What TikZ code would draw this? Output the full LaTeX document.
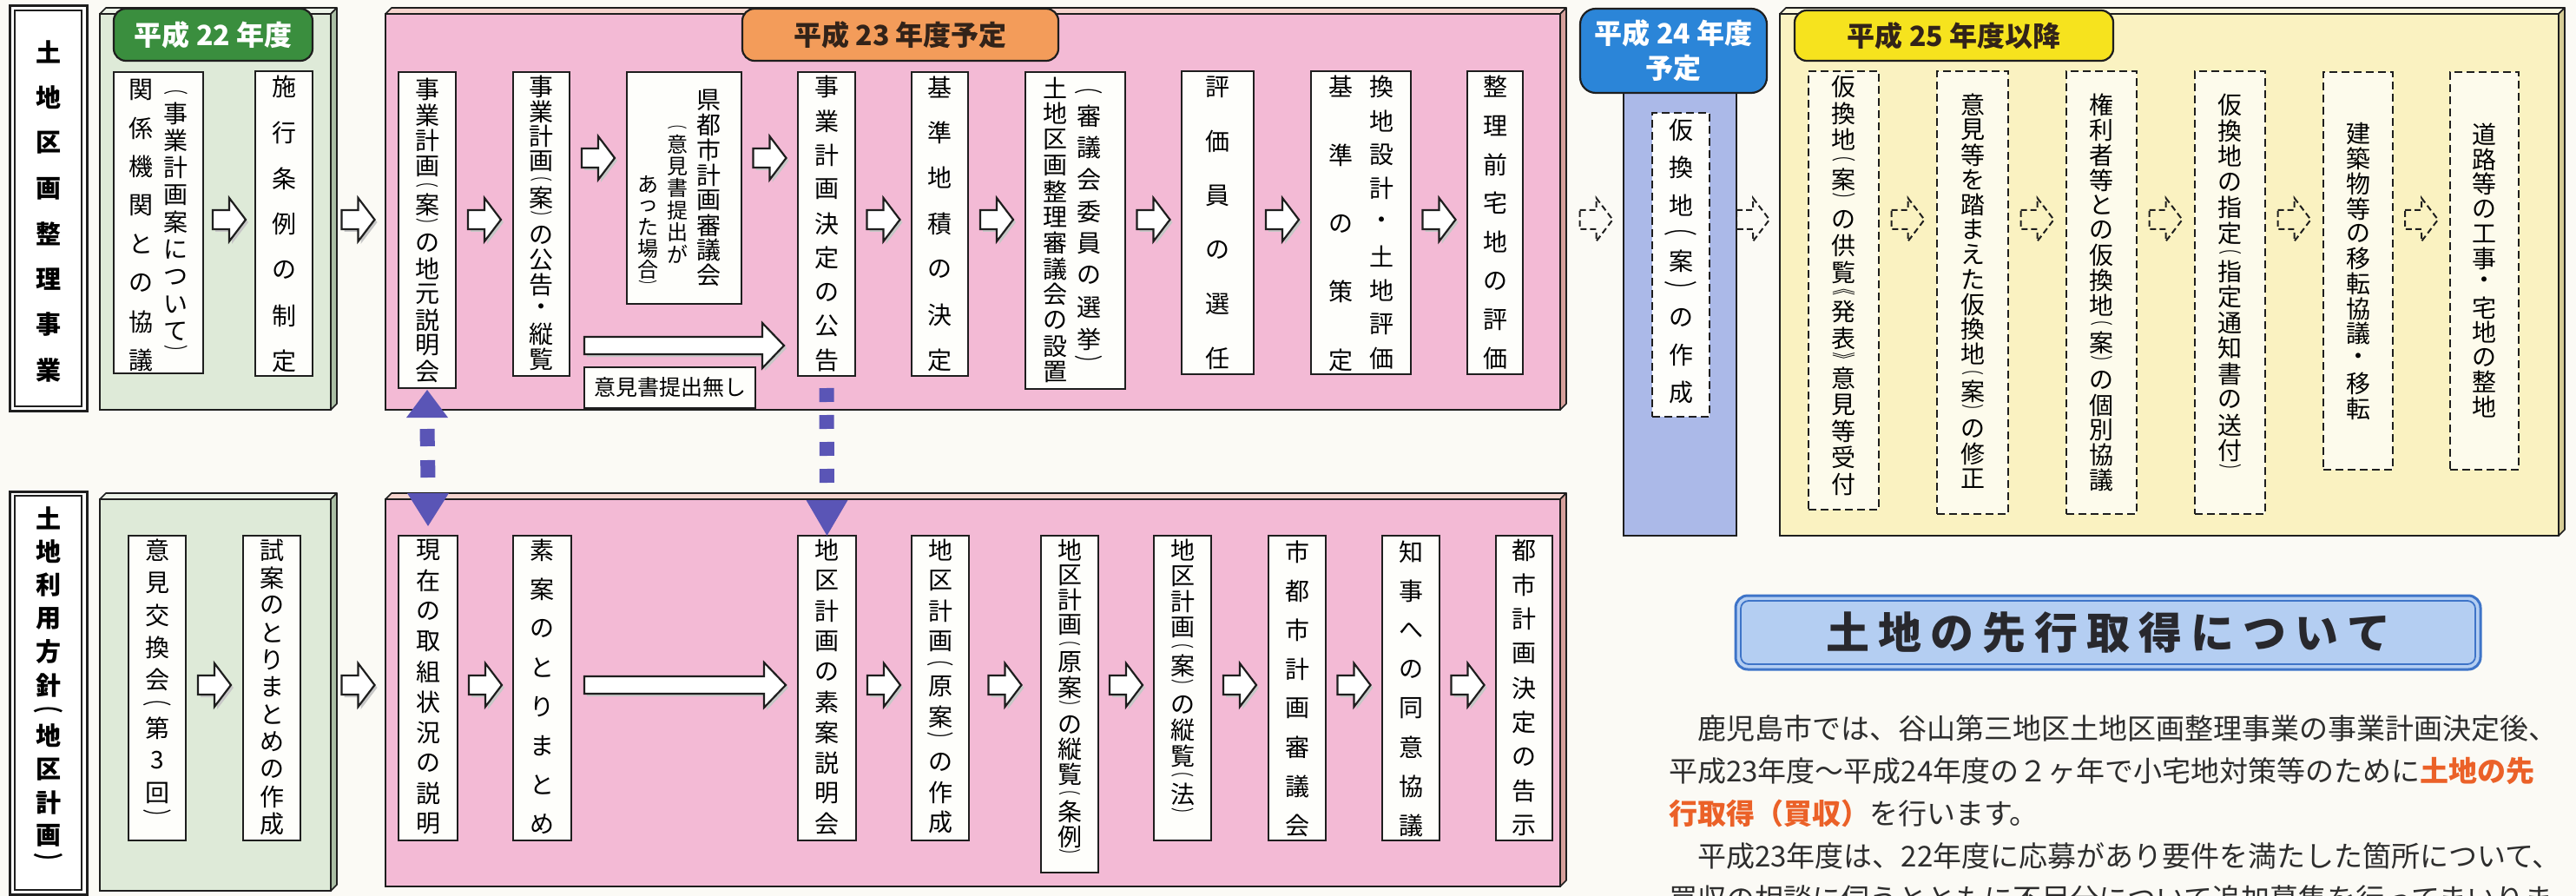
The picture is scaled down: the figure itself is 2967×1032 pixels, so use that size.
\documentclass[tikz,border=0pt]{standalone}
\usepackage{fontspec}
\usepackage{graphicx}
\setmainfont{Noto Sans CJK JP}
\usetikzlibrary{calc}
\definecolor{paper}{RGB}{251,250,245}
\definecolor{linec}{RGB}{30,30,30}
\definecolor{boxfill}{RGB}{254,254,251}
\definecolor{ybfill}{RGB}{253,251,236}
\definecolor{gpanel}{RGB}{222,234,216}
\definecolor{gtop}{RGB}{236,243,232}
\definecolor{gside}{RGB}{170,190,165}
\definecolor{ppanel}{RGB}{243,186,213}
\definecolor{ptop}{RGB}{246,212,206}
\definecolor{pside}{RGB}{214,160,155}
\definecolor{bcol}{RGB}{171,185,232}
\definecolor{ypanel}{RGB}{250,242,193}
\definecolor{ytop}{RGB}{252,248,222}
\definecolor{yside}{RGB}{214,204,150}
\definecolor{ghead}{RGB}{58,142,62}
\definecolor{ohead}{RGB}{243,156,90}
\definecolor{bhead}{RGB}{43,133,216}
\definecolor{yhead}{RGB}{246,227,30}
\definecolor{vconn}{RGB}{90,85,182}
\definecolor{titlefill}{RGB}{180,206,242}
\definecolor{titleline}{RGB}{62,116,200}
\definecolor{titletext}{RGB}{40,40,45}
\definecolor{orgtext}{RGB}{235,97,40}
\definecolor{bodytext}{RGB}{45,45,45}
\definecolor{darkhdr}{RGB}{50,35,25}

\ExplSyntaxOn
\NewDocumentCommand \vcol { O{28} m m m m }
  {
    \vbox to #2pt
      {
        \fontsize{#1}{#1}\selectfont
        \offinterlineskip
        \kern #3pt
        \tl_map_inline:nn {#5}
          {
            \tl_if_in:nnTF { ︵︶︽︾ } {##1}
              {
                \vbox to 0.5\dimexpr #4pt \relax
                  {
                    \vss
                    \hbox to 1em
                      {
                        \hss
                        \scalebox{1.8}[1]
                          { \fontsize{\fp_eval:n {0.5*#4}}{\fp_eval:n {0.5*#4}}\selectfont ##1 }
                        \hss
                      }
                    \vss
                  }
              }
              { \vbox to #4pt { \vss \hbox to 1em { \hss ##1 \hss } \vss } }
          }
        \vss
      }
  }
\ExplSyntaxOff

\newcommand\bx[7][sbox]{\node[#1, minimum width=#5-#3, minimum height=#6-#4] (#2) at (#3,#4) {#7};}
\newcommand\panel[8]{%
  \node[draw=linec, line width=2.5pt, fill=#6, inner sep=0pt, outer sep=0pt, anchor=north west, minimum width=#4-#2, minimum height=#5-#3] (#1) at (#2,#3) {};
  \draw[linec, line width=1.6pt, fill=#7, line join=round] (#1.north west) -- ++(7,-7) -- ($(#1.north east)+(7,-7)$) -- (#1.north east) -- cycle;
  \draw[linec, line width=1.6pt, fill=#8, line join=round] (#1.north east) -- ++(7,-7) -- ($(#1.south east)+(7,-7)$) -- (#1.south east) -- cycle;
}
\newcommand\longarr[2]{%
  \fill[black!22] ($(#1)+(3,-7)$) -- ($(#2)+(-22,-7)$) -- ($(#2)+(-22,-23)$) -- ($(#2)+(3,3)$) -- ($(#2)+(-22,29)$) -- ($(#2)+(-22,13)$) -- ($(#1)+(3,13)$) -- cycle;
  \draw[linec, line width=2.2pt, fill=white, line join=miter] ($(#1)+(0,-10)$) -- ($(#2)+(-25,-10)$) -- ($(#2)+(-25,-26)$) -- (#2) -- ($(#2)+(-25,26)$) -- ($(#2)+(-25,10)$) -- ($(#1)+(0,10)$) -- cycle;
}

\tikzset{
  sbox/.style={draw=linec, line width=2.4pt, fill=boxfill, inner sep=0pt, outer sep=0pt, anchor=north west},
  dbox/.style={sbox, dash pattern=on 9pt off 5pt},
  ybox/.style={dbox, fill=ybfill},
  hdr/.style={draw=linec, line width=2.2pt, rounded corners=14pt, inner sep=0pt, font=\fontsize{32}{40}\selectfont\bfseries, align=center},
  body/.style={anchor=west, inner sep=0pt, text=bodytext, font=\fontsize{33}{33}\selectfont},
  barrow/.pic={
    \fill[black!22] (-16,-8) -- (3,-8) -- (3,-22) -- (22,3) -- (3,28) -- (3,14) -- (-16,14) -- cycle;
    \draw[linec, line width=2.2pt, fill=white, line join=miter] (-19,-11) -- (0,-11) -- (0,-25) -- (19,0) -- (0,25) -- (0,11) -- (-19,11) -- cycle;
  },
  darrow/.pic={
    \draw[linec, line width=2pt, dash pattern=on 7pt off 4pt] (-19,-11) -- (0,-11) -- (0,-25) -- (19,0) -- (0,25) -- (0,11) -- (-19,11) -- cycle;
  }
}

\begin{document}
\begin{tikzpicture}[x=1pt, y=-1pt]
\useasboundingbox (0,0) rectangle (2967,1032);
\fill[paper] (0,0) rectangle (2967,1032);

% row reference coordinates
\coordinate (r0) at (0,182);
\coordinate (r1) at (0,253);
\coordinate (r2) at (0,789);
\coordinate (r3) at (0,398);

% ---------- left labels ----------
\node[draw=linec, line width=3pt, fill=white, anchor=north west, inner sep=0pt, outer sep=0pt, minimum width=89, minimum height=466] (L1) at (11,7) {\bfseries\vcol[29]{466}{26.85}{52.3}{土地区画整理事業}};
\draw[linec, line width=1.4pt] ($(L1.north west)+(6,5)$) rectangle ($(L1.south east)+(-6,-5)$);
\node[draw=linec, line width=3pt, fill=white, anchor=north west, inner sep=0pt, outer sep=0pt, minimum width=89, minimum height=464] (L2) at (11,566) {\bfseries\vcol[29]{464}{11.75}{38.5}{土地利用方針︵地区計画︶}};
\draw[linec, line width=1.4pt] ($(L2.north west)+(6,5)$) rectangle ($(L2.south east)+(-6,-5)$);

% ---------- panels ----------
\panel{GP1}{115}{16}{381}{472}{gpanel}{gtop}{gside}
\panel{PP1}{444}{16}{1797}{472}{ppanel}{ptop}{pside}
\panel{GP2}{115}{575}{381}{1026}{gpanel}{gtop}{gside}
\panel{PP2}{444}{575}{1797}{1021}{ppanel}{ptop}{pside}
\panel{YP}{2050}{16}{2947}{617}{ypanel}{ytop}{yside}
\node[draw=linec, line width=2.5pt, fill=bcol, anchor=north west, inner sep=0pt, outer sep=0pt, minimum width=130, minimum height=510] (BC) at (1870,107) {};

% ---------- headers ----------
\node[hdr, fill=ghead, text=white, minimum width=229, minimum height=60] (H22) at (245.5,40) {平成 22 年度};
\node[hdr, fill=ohead, text=darkhdr, minimum width=364, minimum height=60] (H23) at (1037,40) {平成 23 年度予定};
\node[hdr, fill=bhead, text=white, minimum width=215, minimum height=97, rounded corners=18pt] (H24) at (1927.5,58.5) {平成 24 年度\\予定};
\node[hdr, fill=yhead, text=darkhdr, minimum width=367, minimum height=58] (H25) at (2250.5,41) {平成 25 年度以降};

% ---------- top row boxes ----------
\bx{G1}{131}{83}{234}{430}{\vcol{347}{-2.3}{44.6}{関係機関との協議}\kern12pt\vcol{347}{16.15}{31.4}{︵事業計画案について︶}}
\bx{G2}{294}{82}{360}{433}{\vcol{351}{-8.35}{52.7}{施行条例の制定}}
\bx{P1}{459}{83}{525}{447}{\vcol{364}{5.25}{29.5}{事業計画︵案︶の地元説明会}}
\bx{P2}{591}{83}{656}{433}{\vcol{350}{2.75}{28.5}{事業計画︵案︶の公告・縦覧}}
\bx{P3}{722}{83}{854}{350}{\vcol[24]{267}{117.8}{24.4}{あった場合︶}\kern10pt\vcol[24]{267}{57.65}{25.4}{︵意見書提出が}\kern10.5pt\vcol{267}{17.55}{28.9}{県都市計画審議会}\kern11.5pt}
\bx{P4}{919}{83}{985}{433}{\vcol{350}{-2.7}{39.4}{事業計画決定の公告}}
\bx{P5}{1050}{83}{1115}{433}{\vcol{350}{-9.25}{52.5}{基準地積の決定}}
\bx{P6}{1181}{83}{1296}{448}{\vcol{365}{3.1}{29.8}{土地区画整理審議会の設置}\kern11pt\vcol{365}{13.8}{36.7}{︵審議会委員の選挙︶}\kern8pt}
\bx{P7}{1361}{82}{1444}{431}{\vcol{349}{-13.3}{62.6}{評価員の選任}}
\bx{P8}{1510}{82}{1625}{431}{\vcol{349}{-21.4}{78.75}{基準の策定}\kern19pt\vcol{349}{-1.55}{39.1}{換地設計・土地評価}}
\bx{P9}{1690}{82}{1754}{431}{\vcol{349}{-4.35}{44.7}{整理前宅地の評価}}
\bx[dbox]{B1}{1903}{130}{1969}{480}{\vcol{350}{-1.55}{43.1}{仮換地︵案︶の作成}}
\bx[ybox]{Y1}{2083}{82}{2164}{587}{\vcol{505}{2.75}{30.5}{仮換地︵案︶の供覧︽発表︾意見等受付}}
\bx[ybox]{Y2}{2231}{82}{2313}{592}{\vcol{510}{24.65}{28.7}{意見等を踏まえた仮換地︵案︶の修正}}
\bx[ybox]{Y3}{2380}{82}{2461}{592}{\vcol{510}{24.6}{28.8}{権利者等との仮換地︵案︶の個別協議}}
\bx[ybox]{Y4}{2528}{82}{2609}{592}{\vcol{510}{24.25}{29.5}{仮換地の指定︵指定通知書の送付︶}}
\bx[ybox]{Y5}{2676}{83}{2756}{541}{\vcol{458}{56.6}{28.8}{建築物等の移転協議・移転}}
\bx[ybox]{Y6}{2822}{83}{2901}{541}{\vcol{458}{57.75}{28.5}{道路等の工事・宅地の整地}}

% ---------- bottom row boxes ----------
\bx{G3}{148}{617}{214}{968}{\vcol{351}{-1.6}{37.2}{意見交換会︵第3回︶}}
\bx{G4}{280}{617}{346}{968}{\vcol{351}{1.25}{31.5}{試案のとりまとめの作成}}
\bx{P10}{459}{617}{527}{968}{\vcol{351}{-0.5}{35}{現在の取組状況の説明}}
\bx{P11}{591}{617}{658}{968}{\vcol{351}{-5.5}{45}{素案のとりまとめ}}
\bx{P12}{919}{617}{986}{968}{\vcol{351}{-0.5}{35}{地区計画の素案説明会}}
\bx{P13}{1050}{617}{1116}{968}{\vcol{351}{-0.4}{34.8}{地区計画︵原案︶の作成}}
\bx{P14}{1199}{617}{1265}{1005}{\vcol{388}{2.7}{28.65}{地区計画︵原案︶の縦覧︵条例︶}}
\bx{P15}{1329}{617}{1395}{968}{\vcol{351}{2.2}{29.6}{地区計画︵案︶の縦覧︵法︶}}
\bx{P16}{1461}{617}{1527}{968}{\vcol{351}{-3.5}{45}{市都市計画審議会}}
\bx{P17}{1592}{617}{1658}{968}{\vcol{351}{-3.5}{45}{知事への同意協議}}
\bx{P18}{1723}{617}{1788}{968}{\vcol{351}{-2.8}{39.6}{都市計画決定の告示}}

% ---------- block arrows, top row ----------
\pic at ($(G1.east |- r1)!.5!(G2.west |- r1)$) {barrow};
\pic at ($(GP1.east |- r1)!.5!(PP1.west |- r1)$) {barrow};
\pic at ($(P1.east |- r1)!.5!(P2.west |- r1)$) {barrow};
\pic at ($(P2.east |- r0)!.5!(P3.west |- r0)$) {barrow};
\pic at ($(P3.east |- r0)!.5!(P4.west |- r0)$) {barrow};
\pic at ($(P4.east |- r1)!.5!(P5.west |- r1)$) {barrow};
\pic at ($(P5.east |- r1)!.5!(P6.west |- r1)$) {barrow};
\pic at ($(P6.east |- r1)!.5!(P7.west |- r1)$) {barrow};
\pic at ($(P7.east |- r1)!.5!(P8.west |- r1)$) {barrow};
\pic at ($(P8.east |- r1)!.5!(P9.west |- r1)$) {barrow};
\coordinate (la1s) at ($(P2.east |- r3)+(17,0)$);
\coordinate (la1e) at ($(P4.west |- r3)+(-16,0)$);
\longarr{la1s}{la1e}
\node[sbox, minimum width=197, minimum height=47, font=\fontsize{25}{25}\selectfont] (nolab) at ($(la1s)+(0,25)$) {意見書提出無し};

% dashed arrows
\pic at ($(PP1.east |- r1)!.5!(BC.west |- r1)+(5,0)$) {darrow};
\pic at ($(BC.east |- r1)!.5!(YP.west |- r1)+(-6,0)$) {darrow};
\pic at ($(Y1.east |- r1)!.5!(Y2.west |- r1)$) {darrow};
\pic at ($(Y2.east |- r1)!.5!(Y3.west |- r1)$) {darrow};
\pic at ($(Y3.east |- r1)!.5!(Y4.west |- r1)$) {darrow};
\pic at ($(Y4.east |- r1)!.5!(Y5.west |- r1)$) {darrow};
\pic at ($(Y5.east |- r1)!.5!(Y6.west |- r1)$) {darrow};

% ---------- block arrows, bottom row ----------
\pic at ($(G3.east |- r2)!.5!(G4.west |- r2)$) {barrow};
\pic at ($(GP2.east |- r2)!.5!(PP2.west |- r2)$) {barrow};
\pic at ($(P10.east |- r2)!.5!(P11.west |- r2)$) {barrow};
\pic at ($(P12.east |- r2)!.5!(P13.west |- r2)$) {barrow};
\pic at ($(P13.east |- r2)!.5!(P14.west |- r2)$) {barrow};
\pic at ($(P14.east |- r2)!.5!(P15.west |- r2)$) {barrow};
\pic at ($(P15.east |- r2)!.5!(P16.west |- r2)$) {barrow};
\pic at ($(P16.east |- r2)!.5!(P17.west |- r2)$) {barrow};
\pic at ($(P17.east |- r2)!.5!(P18.west |- r2)$) {barrow};
\coordinate (la2s) at ($(P11.east |- r2)+(15,0)$);
\coordinate (la2e) at ($(P12.west |- r2)+(-14,0)$);
\longarr{la2s}{la2e}

% ---------- vertical dashed connectors ----------
\fill[vconn] ($(P1.south)+(0,2)$) -- ++(-24,32) -- ++(48,0) -- cycle;
\draw[vconn, line width=17pt, dash pattern=on 20pt off 16pt] ($(P1.south)+(0,47)$) -- ($(P10.north)+(0,-66)$);
\fill[vconn] ($(P10.north)+(0,-11)$) -- ++(-24,-38) -- ++(48,0) -- cycle;
\draw[vconn, line width=17pt, dash pattern=on 16pt off 15pt] ($(P4.south)+(0,14)$) -- ($(P12.north)+(0,-56)$);
\fill[vconn] (P12.north) -- ++(-24,-41) -- ++(48,0) -- cycle;

% ---------- title ----------
\node[draw=titleline, line width=3pt, rounded corners=14pt, fill=titlefill, minimum width=858, minimum height=85, inner sep=0pt, outer sep=0pt] (title) at (2428,728.5) {};
\draw[titleline, line width=1.8pt, rounded corners=9pt] ($(title.north west)+(6,6)$) rectangle ($(title.south east)+(-6,-6)$);
\node[font=\fontsize{50}{50}\selectfont\bfseries, text=titletext, inner sep=0pt] (titletxt) at (title.center) {土\kern10pt 地\kern10pt の\kern10pt 先\kern10pt 行\kern10pt 取\kern10pt 得\kern10pt に\kern10pt つ\kern10pt い\kern10pt て};

% ---------- body text ----------
\node[body] (t1) at (1922,839) {　鹿児島市では、谷山第三地区土地区画整理事業の事業計画決定後、};
\node[body] (t2) at (1922,888) {平成23年度～平成24年度の２ヶ年で小宅地対策等のために{\color{orgtext}\bfseries 土地の先}};
\node[body] (t3) at (1922,937) {{\color{orgtext}\bfseries 行取得（買収）}を行います。};
\node[body] (t4) at (1922,986) {　平成23年度は、22年度に応募があり要件を満たした箇所について、};
\node[body] (t5) at (1922,1035) {買収の相談に伺うとともに不足分について追加募集を行ってまいりま};

\end{tikzpicture}
\end{document}
